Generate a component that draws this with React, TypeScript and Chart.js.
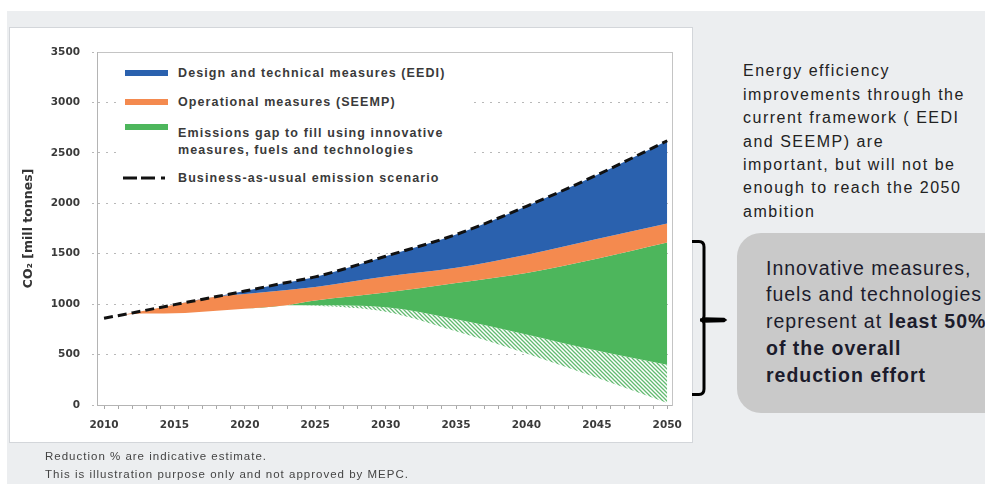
import React, { useEffect, useRef } from 'react';
import { Chart, registerables } from 'chart.js';

Chart.register(...registerables);

// ---- data ----
const years = [2010, 2012, 2015, 2018, 2020, 2023, 2025, 2030, 2035, 2040, 2045, 2050];
const bauEmissions = [860, 913, 995, 1075, 1130, 1215, 1270, 1475, 1690, 1970, 2280, 2620];
const eediLower = [860, 913, 995, 1075, 1100, 1140, 1170, 1275, 1360, 1490, 1645, 1800];
const seempLower = [860, 903, 910, 935, 955, 990, 1035, 1115, 1210, 1310, 1450, 1610];
const gapLower = [860, 903, 910, 935, 955, 990, 990, 970, 850, 700, 540, 400];
const hatchLower = [860, 903, 910, 935, 955, 990, 985, 925, 730, 510, 270, 20];
const xTickLabels = [2010, 2015, 2020, 2025, 2030, 2035, 2040, 2045, 2050];
const firstYear = 2010;
const lastYear = 2050;

const legendLabels = {
  eedi: 'Design and technical measures (EEDI)',
  seemp: 'Operational measures (SEEMP)',
  gap1: 'Emissions gap to fill using innovative',
  gap2: 'measures, fuels and technologies',
  bau: 'Business-as-usual emission scenario',
};
const yTitle = 'CO₂ [mill tonnes]';

const BLUE = '#2a61ae';
const ORANGE = '#f48a4f';
const GREEN = '#4db65c';

const pts = (arr: number[]) => years.map((x, i) => ({ x, y: arr[i] }));

export default function App() {
  const canvasRef = useRef<HTMLCanvasElement>(null);

  useEffect(() => {
    const canvas = canvasRef.current;
    if (!canvas) return;
    const pc = document.createElement('canvas');
    pc.width = 4;
    pc.height = 4;
    const p = pc.getContext('2d')!;
    p.fillStyle = '#ffffff';
    p.fillRect(0, 0, 4, 4);
    p.strokeStyle = '#62ba70';
    p.lineWidth = 1.3;
    p.beginPath();
    p.moveTo(-1, -1);
    p.lineTo(5, 5);
    p.moveTo(-1, 3);
    p.lineTo(1, 5);
    p.moveTo(3, -1);
    p.lineTo(5, 1);
    p.stroke();
    const hatch = p.createPattern(pc, 'repeat');

    const allYears: number[] = [];
    for (let y = firstYear; y <= lastYear; y++) allYears.push(y);

    const tickFont = { family: '"DejaVu Sans", sans-serif', weight: 'bold' as const, size: 10.5 };
    const base = { pointRadius: 0, cubicInterpolationMode: 'monotone' as const, borderWidth: 0, borderColor: 'transparent' };

    const chart = new Chart(canvas, {
      type: 'line',
      data: {
        datasets: [
          { ...base, label: legendLabels.bau, data: pts(bauEmissions), borderColor: '#111111', borderWidth: 3, borderDash: [9, 5], fill: false },
          { ...base, label: legendLabels.eedi, data: pts(bauEmissions), backgroundColor: BLUE, fill: '+1' },
          { ...base, label: legendLabels.seemp, data: pts(eediLower), backgroundColor: ORANGE, fill: '+1' },
          { ...base, label: legendLabels.gap1, data: pts(seempLower), backgroundColor: GREEN, fill: '+1' },
          { ...base, label: 'hatch', data: pts(gapLower), backgroundColor: hatch as any, fill: '+1' },
          { ...base, label: 'lower', data: pts(hatchLower), fill: false },
        ],
      },
      options: {
        animation: false,
        responsive: false,
        events: [],
        layout: { padding: { left: 0, right: 19, top: 25, bottom: 0 } },
        plugins: { legend: { display: false }, tooltip: { enabled: false } },
        scales: {
          x: {
            type: 'linear',
            position: 'bottom',
            min: 2009.5,
            max: 2050.35,
            afterBuildTicks: (s: any) => {
              s.ticks = allYears.map((v) => ({ value: v }));
            },
            afterFit: (s: any) => {
              s.height = 38;
            },
            ticks: {
              autoSkip: false,
              maxRotation: 0,
              padding: 10,
              color: '#3a3a3a',
              font: tickFont,
              callback: (v: any) => (xTickLabels.includes(Number(v)) ? String(v) : ''),
            },
            grid: { drawOnChartArea: false, drawTicks: true, tickLength: 4, color: '#a8a8a8' },
            border: { display: true, color: '#b4b4b4', width: 1 },
          },
          xTop: {
            type: 'linear',
            position: 'top',
            grid: { display: false },
            ticks: { display: false },
            border: { display: true, color: '#c4c4c4', width: 1 },
            afterFit: (s: any) => {
              s.height = 0;
            },
          },
          y: {
            type: 'linear',
            position: 'left',
            min: 0,
            max: 3500,
            afterFit: (s: any) => {
              s.width = 88;
            },
            ticks: {
              stepSize: 500,
              padding: 12,
              color: '#3a3a3a',
              font: tickFont,
              callback: (v: any) => String(v),
            },
            grid: { color: '#b8b8b8', lineWidth: 1, tickLength: 5, tickColor: '#b8b8b8', tickBorderDash: [2, 6] },
            border: { display: true, color: '#b4b4b4', width: 1, dash: [2, 6] },
            title: {
              display: true,
              text: yTitle,
              color: '#333333',
              font: { family: '"DejaVu Sans", sans-serif', weight: 'bold', size: 12.5 },
              padding: { top: 12, bottom: 0 },
            },
          },
          yRight: {
            type: 'linear',
            position: 'right',
            grid: { display: false },
            ticks: { display: false },
            border: { display: true, color: '#c4c4c4', width: 1 },
            afterFit: (s: any) => {
              s.width = 0;
            },
          },
        },
      },
    });
    return () => chart.destroy();
  }, []);

  const legendText: React.CSSProperties = {
    position: 'absolute',
    left: 178,
    fontFamily: '"Liberation Sans", Arial, sans-serif',
    fontWeight: 'bold',
    fontSize: 12.5,
    letterSpacing: 1.1,
    color: '#3a3a3a',
    lineHeight: '16px',
    whiteSpace: 'nowrap',
  };
  const swatch = (top: number, color: string): React.CSSProperties => ({
    position: 'absolute',
    left: 125,
    top,
    width: 43,
    height: 6,
    background: color,
  });

  const rightLines = [
    'Energy efficiency',
    'improvements through the',
    'current framework ( EEDI',
    'and SEEMP) are',
    'important, but will not be',
    'enough to reach the 2050',
    'ambition',
  ];

  return (
    <div
      style={{
        position: 'absolute',
        left: 0,
        top: 0,
        width: 985,
        height: 484,
        overflow: 'hidden',
        background: '#ffffff',
        fontFamily: '"Liberation Sans", Arial, sans-serif',
      }}
    >
      <div style={{ position: 'absolute', left: 7, top: 11, width: 978, height: 473, background: '#eceef0' }} />
      <div
        style={{
          position: 'absolute',
          left: 9,
          top: 27,
          width: 684,
          height: 416,
          background: '#ffffff',
          boxSizing: 'border-box',
          border: '1px solid #d3d6da',
        }}
      />
      <canvas ref={canvasRef} width={683} height={416} style={{ position: 'absolute', left: 9, top: 27 }} />

      {/* legend inside the plot */}
      <div style={{ position: 'absolute', left: 118, top: 57, width: 350, height: 136, background: '#ffffff' }} />
      <div style={swatch(70, BLUE)} />
      <div style={{ ...legendText, top: 65 }}>{legendLabels.eedi}</div>
      <div style={swatch(99, ORANGE)} />
      <div style={{ ...legendText, top: 94 }}>{legendLabels.seemp}</div>
      <div style={swatch(124, GREEN)} />
      <div style={{ ...legendText, top: 125 }}>{legendLabels.gap1}</div>
      <div style={{ ...legendText, top: 141.5 }}>{legendLabels.gap2}</div>
      <svg style={{ position: 'absolute', left: 120, top: 172, width: 56, height: 12 }}>
        <line x1={3} y1={6} x2={53} y2={6} stroke="#111" strokeWidth={3} strokeDasharray="14 4 14 6 4 40" />
      </svg>
      <div style={{ ...legendText, top: 170 }}>{legendLabels.bau}</div>

      {/* right-hand commentary */}
      <div
        style={{
          position: 'absolute',
          left: 743,
          top: 59.3,
          fontSize: 16,
          lineHeight: '23.4px',
          letterSpacing: 1.5,
          color: '#222222',
          whiteSpace: 'nowrap',
        }}
      >
        {rightLines.map((l) => (
          <div key={l}>{l}</div>
        ))}
      </div>

      <div
        style={{
          position: 'absolute',
          left: 737,
          top: 233,
          width: 290,
          height: 180,
          borderRadius: 24,
          background: '#c9c9c9',
        }}
      />
      <div
        style={{
          position: 'absolute',
          left: 766,
          top: 254.6,
          fontSize: 19.5,
          lineHeight: '26.75px',
          letterSpacing: 1,
          color: '#1c1c2c',
          whiteSpace: 'nowrap',
        }}
      >
        <div>Innovative measures,</div>
        <div>fuels and technologies</div>
        <div>
          represent at <b>least 50%</b>
        </div>
        <div>
          <b>of the overall</b>
        </div>
        <div>
          <b>reduction effort</b>
        </div>
      </div>

      <svg style={{ position: 'absolute', left: 0, top: 0, width: 985, height: 484 }}>
        <path d="M692 241.5 H699 Q704 241.5 704 247 V316 Q704 320 700 320 Q704 320 704 324 V389 Q704 394.5 699 394.5 H692" fill="none" stroke="#000" strokeWidth={3} />
        <path d="M704 318 L724 318.5 L726 320 L724 321.5 L704 322 Z" fill="#000" stroke="#000" strokeWidth={1.5} />
      </svg>

      {/* footnotes */}
      <div
        style={{
          position: 'absolute',
          left: 45,
          top: 447,
          fontSize: 11.5,
          lineHeight: '18px',
          letterSpacing: 1,
          color: '#444444',
          whiteSpace: 'nowrap',
        }}
      >
        <div>Reduction % are indicative estimate.</div>
        <div>This is illustration purpose only and not approved by MEPC.</div>
      </div>
    </div>
  );
}
